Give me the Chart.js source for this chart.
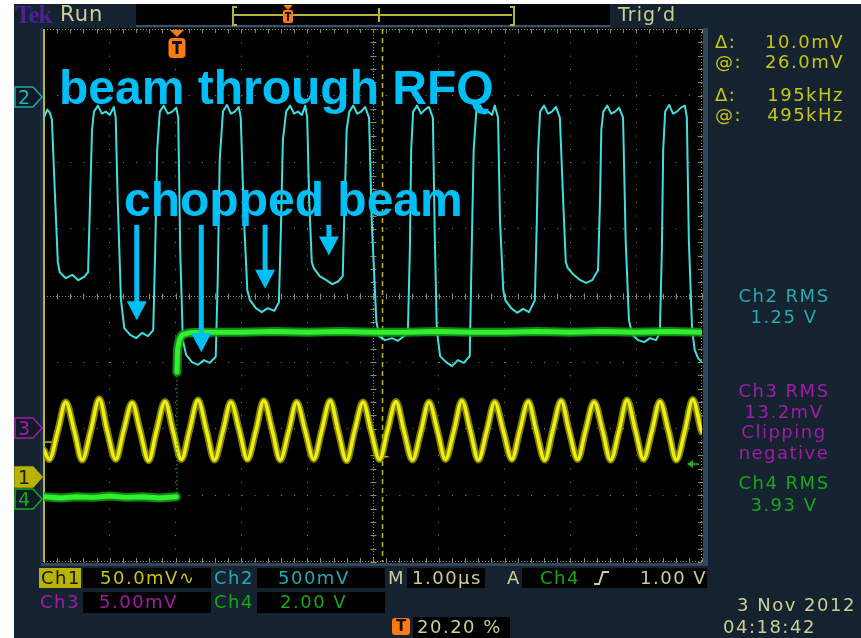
<!DOCTYPE html>
<html>
<head>
<meta charset="utf-8">
<script src="https://cdn.jsdelivr.net/npm/chart.js@4.4.1/dist/chart.umd.min.js"></script>
<style>
  html, body { margin: 0; padding: 0; background: #fff; width: 861px; height: 638px; overflow: hidden; }
  #bezel { position: absolute; left: 14px; top: 4px; width: 847px; height: 634px; background: #15222f; }
  #c { position: absolute; left: 0; top: 0; }
  .t { position: absolute; font-family: "DejaVu Sans", sans-serif; font-size: 18px; line-height: 18px;
       letter-spacing: 1.5px; white-space: nowrap; }
  .box { position: absolute; background: #000; }
  .khaki { color: #cdcd95; }
  .yel { color: #c9c514; }
  .cy { color: #22aab2; }
  .mag { color: #a21ca8; }
  .grn { color: #1aa51a; }
  .mid { left: 703px; width: 162px; text-align: center; }
  .note { position: absolute; font-family: "Liberation Sans", Arial, sans-serif; font-weight: bold;
          font-size: 48px; line-height: 48px; color: #00bff6; white-space: nowrap; }
  .mk { position: absolute; left: 14px; }
</style>
</head>
<body>
<div id="bezel"></div>

<!-- status bar -->
<div class="box" style="left:136px;top:4px;width:474px;height:21px;"></div>
<div style="position:absolute;left:136px;top:25px;width:474px;height:2px;background:#3c5066;"></div>
<div style="position:absolute;left:232px;top:6px;width:3px;height:16px;border:2px solid #b4b43c;border-right:none;"></div>
<div style="position:absolute;left:510px;top:6px;width:3px;height:16px;border:2px solid #b4b43c;border-left:none;"></div>
<div style="position:absolute;left:234px;top:14px;width:278px;height:2px;background:#b4b43c;"></div>
<div style="position:absolute;left:378px;top:8px;width:2px;height:14px;background:#b4b43c;"></div>
<div style="position:absolute;left:283px;top:5px;width:0;height:0;border-left:5px solid transparent;border-right:5px solid transparent;border-top:5px solid #ff7a10;"></div>
<div style="position:absolute;left:283px;top:10px;width:10px;height:13px;background:#ff7a10;border-radius:2px;"></div>
<div style="position:absolute;left:285px;top:12px;width:6px;height:2px;background:#111;"></div>
<div style="position:absolute;left:287px;top:12px;width:2px;height:9px;background:#111;"></div>

<canvas id="c" width="861" height="638"></canvas>

<div class="t" style="left:15px;top:2px;font-family:'Liberation Serif',serif;font-weight:bold;font-size:25px;line-height:25px;letter-spacing:-1px;color:#4d1f96;">Tek</div>
<div class="t khaki" style="left:60px;top:4px;font-size:21px;line-height:21px;letter-spacing:1px;">Run</div>
<div class="t khaki" style="left:618px;top:5px;font-size:19px;line-height:19px;letter-spacing:1px;">Trig’d</div>

<!-- cursor readouts -->
<div class="t yel" style="left:715px;top:33px;">Δ:</div>
<div class="t yel" style="right:17px;top:33px;">10.0mV</div>
<div class="t yel" style="left:715px;top:53px;">@:</div>
<div class="t yel" style="right:17px;top:53px;">26.0mV</div>
<div class="t yel" style="left:715px;top:86px;">Δ:</div>
<div class="t yel" style="right:17px;top:86px;">195kHz</div>
<div class="t yel" style="left:715px;top:106px;">@:</div>
<div class="t yel" style="right:17px;top:106px;">495kHz</div>

<!-- measurements -->
<div class="t cy mid" style="top:287px;">Ch2 RMS</div>
<div class="t cy mid" style="top:308px;">1.25 V</div>
<div class="t mag mid" style="top:382px;">Ch3 RMS</div>
<div class="t mag mid" style="top:403px;">13.2mV</div>
<div class="t mag mid" style="top:423px;">Clipping</div>
<div class="t mag mid" style="top:444px;">negative</div>
<div class="t grn mid" style="top:474px;">Ch4 RMS</div>
<div class="t grn mid" style="top:496px;">3.93 V</div>

<!-- channel ground markers -->
<svg class="mk" style="top:86px" width="30" height="22"><polygon points="1,1 19,1 28,11 19,21 1,21" fill="#0e1a26" stroke="#1fa6a8" stroke-width="1.5"/><text x="10" y="18" font-family="DejaVu Sans" font-size="19" fill="#22b4b4" text-anchor="middle">2</text></svg>
<svg class="mk" style="top:417px" width="30" height="22"><polygon points="1,1 19,1 28,11 19,21 1,21" fill="#0e1a26" stroke="#a21ca8" stroke-width="1.5"/><text x="10" y="18" font-family="DejaVu Sans" font-size="19" fill="#a21ca8" text-anchor="middle">3</text></svg>
<svg class="mk" style="top:466px" width="30" height="22"><polygon points="1,1 19,1 28,11 19,21 1,21" fill="#b7b300" stroke="#b7b300" stroke-width="1.5"/><text x="10" y="18" font-family="DejaVu Sans" font-size="19" fill="#1a1a08" text-anchor="middle">1</text></svg>
<svg class="mk" style="top:488px" width="30" height="22"><polygon points="1,1 19,1 28,11 19,21 1,21" fill="#0e1a26" stroke="#1aa51a" stroke-width="1.5"/><text x="10" y="18" font-family="DejaVu Sans" font-size="19" fill="#1aa51a" text-anchor="middle">4</text></svg>

<!-- annotations -->
<div class="note" style="left:59px;top:64px;">beam through RFQ</div>
<div class="note" style="left:124px;top:176px;">chopped beam</div>

<!-- vertical / horizontal settings -->
<div style="position:absolute;left:39px;top:568px;width:42px;height:20px;background:#b7b300;"></div>
<div class="t" style="left:41px;top:569px;color:#14140a;">Ch1</div>
<div class="box" style="left:83px;top:568px;width:128px;height:20px;"></div>
<div class="t yel" style="left:100px;top:569px;">50.0mV∿</div>
<div class="t cy" style="left:214px;top:569px;">Ch2</div>
<div class="box" style="left:257px;top:568px;width:128px;height:20px;"></div>
<div class="t cy" style="left:278px;top:569px;">500mV</div>
<div class="t khaki" style="left:388px;top:569px;">M</div>
<div class="box" style="left:407px;top:568px;width:78px;height:20px;"></div>
<div class="t khaki" style="left:412px;top:569px;">1.00µs</div>
<div class="t khaki" style="left:507px;top:569px;">A</div>
<div class="box" style="left:522px;top:568px;width:185px;height:20px;"></div>
<div class="t grn" style="left:540px;top:569px;">Ch4</div>
<svg style="position:absolute;left:592px;top:570px" width="20" height="16"><polyline points="2,14 7,14 11,2 17,2" fill="none" stroke="#cdcd95" stroke-width="2"/></svg>
<div class="t khaki" style="left:640px;top:569px;">1.00 V</div>

<div class="t mag" style="left:40px;top:593px;">Ch3</div>
<div class="box" style="left:83px;top:592px;width:128px;height:21px;"></div>
<div class="t mag" style="left:99px;top:593px;">5.00mV</div>
<div class="t grn" style="left:214px;top:593px;">Ch4</div>
<div class="box" style="left:257px;top:592px;width:128px;height:21px;"></div>
<div class="t grn" style="left:280px;top:593px;">2.00 V</div>

<div style="position:absolute;left:392px;top:618px;width:18px;height:17px;background:#ff7a10;border-radius:3px;font-family:'DejaVu Sans',sans-serif;font-weight:bold;font-size:15px;line-height:17px;text-align:center;color:#111;">T</div>
<div class="box" style="left:413px;top:617px;width:97px;height:21px;"></div>
<div class="t khaki" style="left:417px;top:618px;">20.20 %</div>
<div class="t khaki" style="left:737px;top:596px;">3 Nov 2012</div>
<div class="t khaki" style="left:723px;top:618px;">04:18:42</div>

<script>
// Time axis: µs across the 10-division screen; vertical axis: divisions from centre.
const TRIGGER_T = 2.02;        // trigger position, 20.20 % of the record
const CURSOR_T = [0.0, 5.13];  // vertical cursors (Δ 195 kHz)
const CURSOR_MARK = [-2.20, -2.42];  // waveform crossing of each cursor (Ch1)
const TRIG_LEVEL = -2.53;      // Ch4 trigger level, 1.00 V

// Ch1: RF reference sine (peaks / zero crossings / troughs)
const ch1Rf = [
  [0.00,-2.32],[0.08,-2.46],[0.21,-2.03],[0.33,-1.60],[0.46,-2.03],[0.58,-2.47],[0.71,-2.03],[0.84,-1.55],
  [0.96,-2.03],[1.09,-2.46],[1.21,-2.03],[1.34,-1.61],[1.46,-2.03],[1.59,-2.48],[1.71,-2.03],[1.84,-1.59],
  [1.96,-2.03],[2.09,-2.46],[2.21,-2.03],[2.34,-1.57],[2.47,-2.03],[2.59,-2.47],[2.72,-2.03],[2.84,-1.60],
  [2.97,-2.03],[3.09,-2.46],[3.22,-2.03],[3.34,-1.58],[3.47,-2.03],[3.59,-2.47],[3.72,-2.03],[3.84,-1.60],
  [3.97,-2.03],[4.10,-2.46],[4.22,-2.03],[4.35,-1.58],[4.47,-2.03],[4.60,-2.48],[4.72,-2.03],[4.85,-1.60],
  [4.97,-2.03],[5.10,-2.46],[5.22,-2.03],[5.35,-1.59],[5.47,-2.03],[5.60,-2.47],[5.73,-2.03],[5.85,-1.60],
  [5.98,-2.03],[6.10,-2.46],[6.23,-2.03],[6.35,-1.58],[6.48,-2.03],[6.60,-2.47],[6.73,-2.03],[6.85,-1.60],
  [6.98,-2.03],[7.11,-2.46],[7.23,-2.03],[7.36,-1.59],[7.48,-2.03],[7.61,-2.47],[7.73,-2.03],[7.86,-1.58],
  [7.98,-2.03],[8.11,-2.46],[8.23,-2.03],[8.36,-1.60],[8.49,-2.03],[8.61,-2.47],[8.74,-2.03],[8.86,-1.57],
  [8.99,-2.03],[9.11,-2.46],[9.24,-2.03],[9.36,-1.59],[9.49,-2.03],[9.61,-2.47],[9.74,-2.03],[9.86,-1.56],
  [9.99,-2.03],[10.00,-2.05]
];

// Ch2: beam current through the RFQ, chopped bunches
const ch2Beam = [
  [0.00,2.67],[0.05,2.79],[0.09,2.74],[0.12,2.64],[0.17,1.43],[0.21,0.50],[0.24,0.35],
  [0.33,0.26],[0.43,0.31],[0.52,0.23],[0.61,0.28],[0.67,0.35],
  [0.70,1.43],[0.73,2.49],[0.76,2.76],
  [0.82,2.85],[0.88,2.73],[0.94,2.76],[1.00,2.71],[1.06,2.83],[1.09,2.67],
  [1.12,1.43],[1.17,-0.07],[1.22,-0.49],
  [1.31,-0.59],[1.40,-0.64],[1.49,-0.56],[1.58,-0.61],[1.66,-0.52],
  [1.69,0.68],[1.72,2.18],[1.76,2.76],
  [1.82,2.85],[1.88,2.73],[1.95,2.76],[2.01,2.82],[2.04,2.67],
  [2.07,0.68],[2.11,-0.67],[2.16,-0.89],
  [2.25,-1.00],[2.34,-1.04],[2.43,-0.97],[2.52,-1.01],[2.61,-0.92],
  [2.64,0.23],[2.67,2.03],[2.72,2.76],
  [2.78,2.86],[2.84,2.73],[2.90,2.76],[2.96,2.83],[2.99,2.67],
  [3.04,1.13],[3.09,0.08],[3.13,-0.07],
  [3.22,-0.19],[3.31,-0.25],[3.40,-0.19],[3.50,-0.23],[3.57,-0.10],
  [3.60,0.98],[3.63,2.33],[3.68,2.76],
  [3.74,2.85],[3.80,2.73],[3.86,2.76],[3.92,2.71],[3.97,2.85],[4.00,2.67],
  [4.03,1.43],[4.07,0.50],[4.10,0.41],
  [4.19,0.29],[4.29,0.23],[4.38,0.17],[4.47,0.21],[4.54,0.29],
  [4.57,1.43],[4.60,2.49],[4.64,2.76],
  [4.70,2.85],[4.76,2.73],[4.82,2.76],[4.88,2.83],[4.94,2.67],
  [4.98,1.13],[5.05,-0.37],[5.09,-0.61],
  [5.18,-0.67],[5.29,-0.64],[5.38,-0.68],[5.47,-0.61],[5.53,-0.56],
  [5.56,0.68],[5.58,2.18],[5.61,2.76],
  [5.67,2.85],[5.73,2.73],[5.79,2.79],[5.85,2.83],[5.91,2.67],
  [5.94,0.83],[5.97,-0.52],[6.02,-0.91],
  [6.11,-1.00],[6.20,-1.06],[6.29,-0.97],[6.38,-1.01],[6.47,-0.91],
  [6.50,0.68],[6.53,2.18],[6.57,2.76],
  [6.63,2.85],[6.69,2.73],[6.75,2.76],[6.81,2.71],[6.85,2.85],[6.90,2.67],
  [6.93,1.13],[6.98,0.08],[7.01,-0.07],
  [7.10,-0.19],[7.19,-0.26],[7.28,-0.20],[7.37,-0.25],[7.46,-0.07],
  [7.49,1.13],[7.51,2.18],[7.54,2.76],
  [7.60,2.85],[7.66,2.73],[7.72,2.76],[7.78,2.83],[7.84,2.67],
  [7.89,1.43],[7.93,0.50],[7.96,0.41],
  [8.05,0.31],[8.15,0.23],[8.24,0.19],[8.33,0.23],[8.42,0.38],
  [8.45,1.43],[8.47,2.49],[8.50,2.76],
  [8.56,2.85],[8.62,2.73],[8.68,2.76],[8.74,2.82],[8.80,2.67],
  [8.84,0.83],[8.89,-0.37],[8.94,-0.59],
  [9.03,-0.67],[9.12,-0.70],[9.21,-0.64],[9.30,-0.67],[9.36,-0.56],
  [9.39,0.68],[9.41,2.18],[9.44,2.76],
  [9.50,2.86],[9.56,2.73],[9.62,2.76],[9.68,2.82],[9.74,2.85],[9.77,2.67],
  [9.80,0.83],[9.85,-0.52],[9.89,-0.82],[9.94,-0.94],[10.00,-1.00]
];

// Ch4: chopper gate, low before the trigger and high after it
const ch4Before = [
  [0.00,-3.02],[0.25,-3.04],[0.50,-3.02],[0.75,-3.03],[1.00,-3.01],[1.25,-3.03],[1.50,-3.02],[1.75,-3.04],[2.01,-3.02]
];
const ch4Edge = [[2.02,-3.03],[2.02,-1.15]];
const ch4After = [
  [2.02,-1.15],[2.03,-0.80],[2.06,-0.66],[2.10,-0.59],[2.20,-0.56],[2.40,-0.55],[3.00,-0.55],[3.50,-0.54],
  [4.00,-0.55],[4.50,-0.54],[5.00,-0.55],[5.50,-0.55],[6.00,-0.54],[6.50,-0.55],[7.00,-0.55],[7.50,-0.54],
  [8.00,-0.55],[8.50,-0.54],[9.00,-0.55],[9.50,-0.54],[10.00,-0.55]
];

// arrows pointing at the chopped bunches: time, start and tip level
const chopArrows = [
  { t: 1.41, from: 1.06, to: -0.37 },
  { t: 2.39, from: 1.06, to: -0.85 },
  { t: 3.36, from: 1.06, to: 0.10 },
  { t: 4.33, from: 1.06, to: 0.60 }
];

const GRAT = '#8a8a6c';

function seg(ctx, x1, y1, x2, y2) { ctx.beginPath(); ctx.moveTo(x1, y1); ctx.lineTo(x2, y2); ctx.stroke(); }

const scopeFace = {
  id: 'scopeFace',
  beforeDraw(chart) {
    const { ctx, chartArea: a } = chart;
    ctx.save();
    ctx.fillStyle = '#34465a';
    ctx.fillRect(a.left - 3, a.top - 1, (a.right - a.left) + 9, (a.bottom - a.top) + 5);
    ctx.fillStyle = '#1b2c44';
    ctx.fillRect(a.left - 4, a.top - 1, 3, (a.bottom - a.top) + 2);
    ctx.fillStyle = '#000';
    ctx.fillRect(a.left - 1, a.top - 1, (a.right - a.left) + 2, (a.bottom - a.top) + 2);
    ctx.restore();
  },
  beforeDatasetsDraw(chart) {
    const { ctx, chartArea: a, scales: { x, y } } = chart;
    const xc = Math.round(x.getPixelForValue(5)) + 0.5;
    const yc = Math.round(y.getPixelForValue(0)) + 0.5;
    ctx.save();
    ctx.strokeStyle = GRAT;
    ctx.lineWidth = 1;
    ctx.setLineDash([1, 2]);
    seg(ctx, a.left, yc, a.right, yc);
    seg(ctx, xc, a.top, xc, a.bottom);
    seg(ctx, a.left, a.top + 0.5, a.right, a.top + 0.5);
    seg(ctx, a.left, a.bottom - 0.5, a.right, a.bottom - 0.5);
    seg(ctx, a.right - 0.5, a.top, a.right - 0.5, a.bottom);
    ctx.setLineDash([]);
    for (let k = 0; k <= 50; k++) {
      const px = Math.round(x.getPixelForValue(k / 5)) + 0.5;
      seg(ctx, px, yc - 3, px, yc + 3);
      seg(ctx, px, a.top, px, a.top + 4);
      seg(ctx, px, a.bottom - 4, px, a.bottom);
    }
    for (let k = -20; k <= 20; k++) {
      const py = Math.round(y.getPixelForValue(k / 5)) + 0.5;
      seg(ctx, xc - 3, py, xc + 3, py);
      seg(ctx, a.right - 4, py, a.right, py);
    }
    // cursors
    ctx.strokeStyle = '#bdbb10';
    ctx.lineWidth = 2;
    const c1 = x.getPixelForValue(CURSOR_T[0]);
    seg(ctx, c1, a.top, c1, a.bottom);
    const c2 = Math.round(x.getPixelForValue(CURSOR_T[1])) + 0.5;
    ctx.lineWidth = 1.5;
    ctx.setLineDash([5, 4]);
    seg(ctx, c2, a.top, c2, a.bottom);
    ctx.setLineDash([]);
    ctx.lineWidth = 1.5;
    const m1 = y.getPixelForValue(CURSOR_MARK[0]);
    const m2 = y.getPixelForValue(CURSOR_MARK[1]);
    seg(ctx, c1, m1, c1 + 10, m1);
    seg(ctx, c2 - 5, m2, c2 + 6, m2);
    // trigger position marker
    const tx = Math.round(x.getPixelForValue(TRIGGER_T));
    ctx.fillStyle = '#ff7a10';
    ctx.beginPath();
    ctx.moveTo(tx - 7, a.top + 1); ctx.lineTo(tx + 7, a.top + 1); ctx.lineTo(tx, a.top + 8); ctx.closePath(); ctx.fill();
    ctx.beginPath();
    ctx.roundRect(tx - 8.5, a.top + 9, 17, 20, 4);
    ctx.fill();
    ctx.fillStyle = '#111';
    ctx.fillRect(tx - 5, a.top + 12, 10, 3);
    ctx.fillRect(tx - 1.5, a.top + 12, 3, 13);
    // Ch4 trigger level
    const ty = y.getPixelForValue(TRIG_LEVEL);
    ctx.fillStyle = '#1fb01f';
    ctx.strokeStyle = '#1fb01f';
    ctx.beginPath();
    ctx.moveTo(a.right - 15, ty); ctx.lineTo(a.right - 9, ty - 4); ctx.lineTo(a.right - 9, ty + 4); ctx.closePath(); ctx.fill();
    ctx.lineWidth = 1.5;
    seg(ctx, a.right - 10, ty, a.right - 3, ty);
    ctx.restore();
  },
  afterDatasetsDraw(chart) {
    const { ctx, scales: { x, y } } = chart;
    ctx.save();
    ctx.fillStyle = '#00bff6';
    chopArrows.forEach(ar => {
      const cx = x.getPixelForValue(ar.t);
      const y0 = y.getPixelForValue(ar.from);
      const y1 = y.getPixelForValue(ar.to);
      const head = 19;
      ctx.fillRect(cx - 2.5, y0, 5, (y1 - head) - y0 + 1);
      ctx.beginPath();
      ctx.moveTo(cx - 10, y1 - head); ctx.lineTo(cx + 10, y1 - head); ctx.lineTo(cx, y1); ctx.closePath();
      ctx.fill();
    });
    ctx.restore();
  }
};

const trace = (data, color, width, order, extra) => Object.assign({
  data, borderColor: color, borderWidth: width, order,
  pointRadius: 0, fill: false, tension: 0, borderJoinStyle: 'round', borderCapStyle: 'round'
}, extra || {});

new Chart(document.getElementById('c'), {
  type: 'line',
  data: {
    datasets: [
      trace(ch4Before, '#30f030', 5, 0, { label: 'Ch4' }),
      trace(ch4After, '#30f030', 5, 0, { label: 'Ch4' }),
      trace(ch4Before, 'rgba(20,150,20,0.9)', 9, 1, { label: 'Ch4' }),
      trace(ch4After, 'rgba(20,150,20,0.9)', 9, 1, { label: 'Ch4' }),
      trace(ch4Edge, '#20b820', 1.5, 0, { label: 'Ch4', borderDash: [1, 3], borderCapStyle: 'butt' }),
      trace(ch2Beam, '#40dede', 2, 2, { label: 'Ch2' }),
      trace(ch1Rf, '#eeee14', 3.5, 3, { label: 'Ch1', cubicInterpolationMode: 'monotone' }),
      trace(ch1Rf, 'rgba(150,150,0,0.85)', 7, 4, { label: 'Ch1', cubicInterpolationMode: 'monotone' })
    ]
  },
  options: {
    responsive: false,
    animation: false,
    events: [],
    layout: { padding: { left: 44, top: 29, right: 159, bottom: 76 } },
    plugins: { legend: { display: false }, tooltip: { enabled: false } },
    scales: {
      x: {
        type: 'linear', min: 0, max: 10,
        ticks: { display: false, stepSize: 1 },
        grid: { color: GRAT, lineWidth: 1, drawTicks: false },
        border: { display: false, dash: [1, 12.32] }
      },
      y: {
        type: 'linear', min: -4, max: 4,
        ticks: { display: false, stepSize: 1 },
        grid: { color: GRAT, lineWidth: 1, drawTicks: false },
        border: { display: false, dash: [1, 12.16] }
      }
    }
  },
  plugins: [scopeFace]
});
</script>
</body>
</html>
